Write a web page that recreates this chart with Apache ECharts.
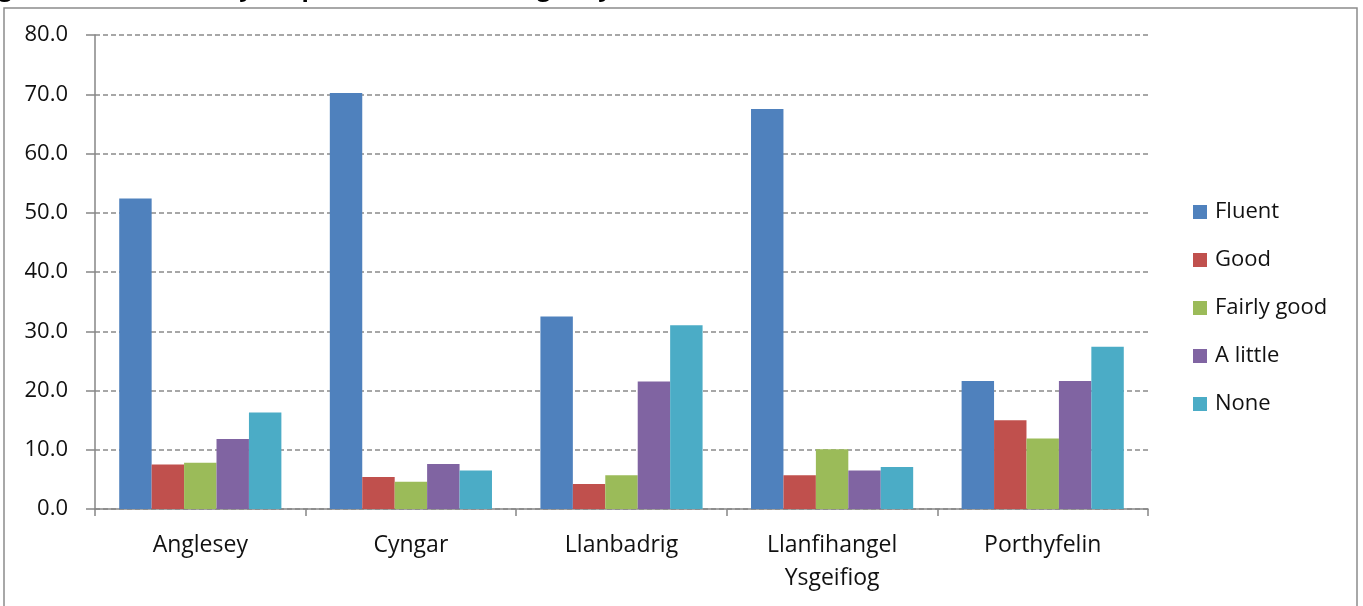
<!DOCTYPE html>
<html>
<head>
<meta charset="utf-8">
<title>Welsh fluency</title>
<script src="https://cdn.jsdelivr.net/npm/echarts@6/dist/echarts.min.js"></script>
<style>
  html, body { margin: 0; padding: 0; background: #fff; }
  #chart { width: 1363px; height: 606px; }
</style>
</head>
<body>
<div id="chart"></div>
<script>
let places = ['Anglesey', 'Cyngar', 'Llanbadrig', 'Llanfihangel\nYsgeifiog', 'Porthyfelin'];
let levels = ['Fluent', 'Good', 'Fairly good', 'A little', 'None'];
let fluent = [52.4, 70.2, 32.5, 67.5, 21.6];
let good = [7.5, 5.4, 4.2, 5.7, 15.0];
let fairlyGood = [7.8, 4.6, 5.7, 10.1, 11.9];
let aLittle = [11.8, 7.6, 21.5, 6.5, 21.6];
let none = [16.3, 6.5, 31.0, 7.1, 27.4];
let yTicks = [0, 10, 20, 30, 40, 50, 60, 70, 80];

let colors = ['#4F81BD', '#C0504D', '#9BBB59', '#8064A2', '#4BACC6'];
let seriesValues = [fluent, good, fairlyGood, aLittle, none];
let font = '"Open Sans", "Noto Sans", sans-serif';

let myChart = echarts.init(document.getElementById('chart'));

let series = [];
levels.forEach(function (name, i) {
    series.push({
        name: name,
        type: 'bar',
        barGap: '0%',
        barCategoryGap: '23%',
        data: seriesValues[i],
        itemStyle: { color: colors[i] }
    });
});

let option = {
    animation: false,
    color: colors,
    textStyle: { fontFamily: font },
    grid: { left: 95, right: 215, top: 35, bottom: 97 },
    legend: {
        orient: 'vertical',
        left: 1193,
        top: 201,
        padding: 0,
        itemWidth: 14,
        itemHeight: 14,
        itemGap: 26,
        icon: 'rect',
        textStyle: { fontSize: 22, color: '#111', fontFamily: font, padding: [0, 0, 0, 3] },
        data: levels
    },
    xAxis: {
        type: 'category',
        data: places,
        axisLine: { lineStyle: { color: '#868686', width: 1.5 } },
        axisTick: { show: true, length: 7, lineStyle: { color: '#868686', width: 1.5 } },
        axisLabel: { fontSize: 23, color: '#111', margin: 20, lineHeight: 33, fontFamily: font }
    },
    yAxis: {
        type: 'value',
        min: yTicks[0],
        max: yTicks[yTicks.length - 1],
        interval: 10,
        axisLine: { show: true, lineStyle: { color: '#868686', width: 1.5 } },
        axisTick: { show: true, length: 9, lineStyle: { color: '#868686', width: 1.5 } },
        axisLabel: {
            fontSize: 22, color: '#111', margin: 27, fontFamily: font,
            formatter: function (v) { return v.toFixed(1); }
        },
        splitLine: { lineStyle: { color: '#8a8a8a', type: [5, 3], width: 1.5 } }
    },
    graphic: [
        {
            type: 'rect',
            silent: true,
            shape: { x: 4, y: 8, width: 1353, height: 620 },
            style: { fill: 'none', stroke: '#8c8c8c', lineWidth: 1.5 }
        },
        {
            // title sits mostly above the top edge, as in the cropped original
            type: 'text',
            silent: true,
            left: -22,
            top: -23,
            style: {
                text: 'Figure 3: Welsh fluency of speakers at sites (Anglesey)',
                font: 'bold 24px ' + font,
                fill: '#000'
            }
        }
    ],
    series: series
};
myChart.setOption(option);
</script>
</body>
</html>
